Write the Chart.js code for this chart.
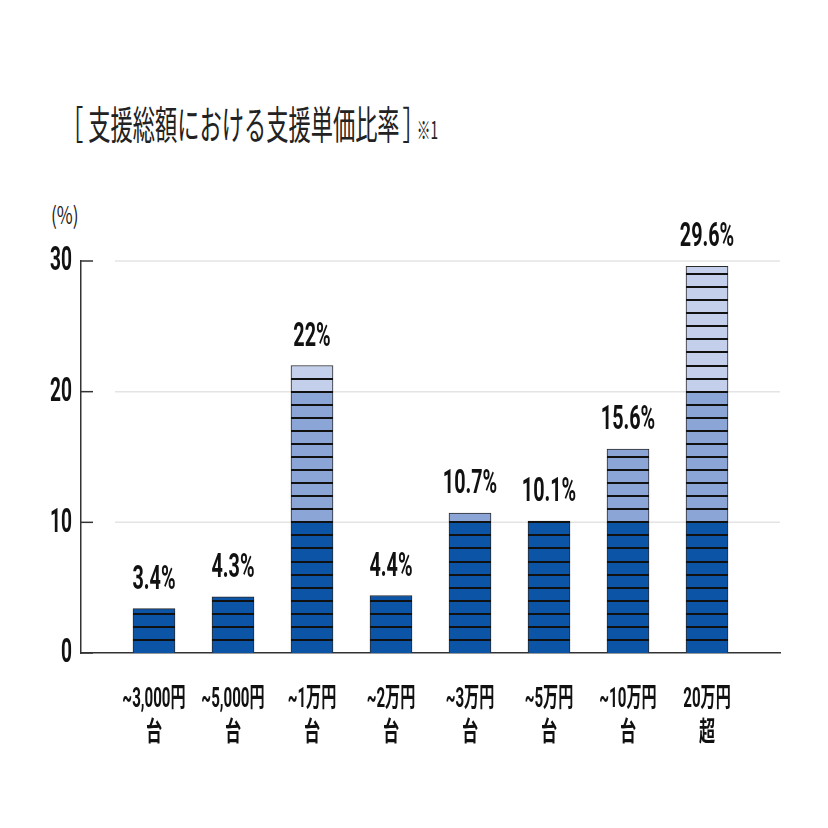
<!DOCTYPE html>
<html>
<head>
<meta charset="utf-8">
<script src="https://cdn.jsdelivr.net/npm/chart.js@4"></script>
<style>
  body { margin: 0; background: #fff; }
  #wrap { position: relative; width: 828px; height: 828px; }
  #chart { position: absolute; left: 0; top: 0; }
  #title {
    position: absolute; left: 61px; top: 99px; white-space: nowrap;
    font-family: 'Noto Sans CJK JP', sans-serif; font-size: 39px; color: #222;
    transform: scaleX(0.57); transform-origin: left top; line-height: 46px;
  }
  #title .open { margin-right: 9px; }
  #title .close { margin-left: 5px; }
  #title .note { font-size: 24px; margin-left: -14px; }
  #unit {
    position: absolute; left: 51px; top: 196px; white-space: nowrap;
    font-family: 'Noto Sans CJK JP', sans-serif; font-size: 24px; color: #222;
    transform: scaleX(0.72); transform-origin: left top;
  }
</style>
</head>
<body>
<div id="wrap">
  <div id="title"><span class="open">［</span>支援総額における支援単価比率<span class="close">］</span><span class="note">※1</span></div>
  <div id="unit">(%)</div>
  <canvas id="chart" width="828" height="828"></canvas>
</div>
<script>
// Data
const labelsTop = ['~3,000円', '~5,000円', '~1万円', '~2万円', '~3万円', '~5万円', '~10万円', '20万円'];
const labelsBottom = ['台', '台', '台', '台', '台', '台', '台', '超'];
const values = [3.4, 4.3, 22, 4.4, 10.7, 10.1, 15.6, 29.6];
const yTicks = [0, 10, 20, 30];

const darkBlue = '#0c55a6';
const midBlue = '#8ca5d7';
const lightBlue = '#c4cfec';

// Split each value into 0-10, 10-20, 20-30 bands
const bandLow = values.map((v, i) => ({ x: i, y: Math.min(v, 10) }));
const bandMid = values.map((v, i) => ({ x: i, y: v > 10 ? Math.min(v - 10, 10) : null }));
const bandHigh = values.map((v, i) => ({ x: i, y: v > 20 ? v - 20 : null }));

// Draw text squeezed horizontally (condensed look)
function squishText(ctx, text, x, y, sx, align) {
    ctx.save();
    ctx.translate(x, y);
    ctx.scale(sx, 1);
    ctx.textAlign = align;
    ctx.fillText(text, 0, 0);
    ctx.restore();
}

// Gridlines and inner tick marks
const gridPlugin = {
    id: 'gridPlugin',
    beforeDatasetsDraw(chart) {
        const { ctx, chartArea, scales } = chart;
        ctx.save();
        yTicks.forEach(t => {
            const py = scales.y.getPixelForValue(t);
            if (t > 0) {
                ctx.strokeStyle = '#e4e4e4';
                ctx.lineWidth = 1.5;
                ctx.beginPath();
                ctx.moveTo(chartArea.left + 34, py);
                ctx.lineTo(chartArea.right, py);
                ctx.stroke();
            }
            ctx.strokeStyle = '#333';
            ctx.lineWidth = 1.5;
            ctx.beginPath();
            ctx.moveTo(chartArea.left, py);
            ctx.lineTo(chartArea.left + 12, py);
            ctx.stroke();
        });
        ctx.restore();
    }
};

// Horizontal stripes on every bar at each whole percent
const stripePlugin = {
    id: 'stripePlugin',
    afterDatasetsDraw(chart) {
        const { ctx, scales } = chart;
        const meta = chart.getDatasetMeta(0);
        ctx.save();
        ctx.strokeStyle = '#111';
        ctx.lineWidth = 2;
        values.forEach((v, i) => {
            const bar = meta.data[i];
            const half = bar.width / 2;
            for (let k = 1; k < v; k++) {
                const py = Math.round(scales.y.getPixelForValue(k));
                ctx.beginPath();
                ctx.moveTo(bar.x - half, py);
                ctx.lineTo(bar.x + half, py);
                ctx.stroke();
            }
        });
        ctx.restore();
    }
};

// Tick labels and value labels
const labelPlugin = {
    id: 'labelPlugin',
    afterDraw(chart) {
        const { ctx, chartArea, scales } = chart;
        ctx.save();
        ctx.fillStyle = '#111';

        // y tick labels
        ctx.font = "700 33px Roboto, 'Noto Sans CJK JP', sans-serif";
        ctx.textBaseline = 'middle';
        yTicks.forEach(t => {
            squishText(ctx, String(t), chartArea.left - 9, scales.y.getPixelForValue(t) + 1, 0.58, 'right');
        });

        // x tick labels
        ctx.font = "700 27px Roboto, 'Noto Sans CJK JP', sans-serif";
        labelsTop.forEach((lab, i) => {
            const px = scales.x.getPixelForValue(i);
            squishText(ctx, lab, px, chartArea.bottom + 47, 0.56, 'center');
            squishText(ctx, labelsBottom[i], px, chartArea.bottom + 81, 0.6, 'center');
        });

        // value labels above bars
        ctx.font = "700 33px Roboto, sans-serif";
        ctx.textBaseline = 'alphabetic';
        values.forEach((v, i) => {
            const px = scales.x.getPixelForValue(i);
            const py = scales.y.getPixelForValue(v);
            squishText(ctx, v + '%', px, py - 20, 0.6, 'center');
        });
        ctx.restore();
    }
};

const ctx = document.getElementById('chart').getContext('2d');
const chart = new Chart(ctx, {
    type: 'bar',
    data: {
        datasets: [
            { data: bandLow, backgroundColor: darkBlue },
            { data: bandMid, backgroundColor: midBlue },
            { data: bandHigh, backgroundColor: lightBlue }
        ]
    },
    options: {
        responsive: false,
        animation: false,
        layout: { padding: { top: 261, right: 48, left: 0, bottom: 0 } },
        datasets: {
            bar: {
                barThickness: 42,
                borderColor: '#2a2a2a',
                borderWidth: 1,
                borderSkipped: 'start'
            }
        },
        plugins: {
            legend: { display: false },
            tooltip: { enabled: false }
        },
        scales: {
            x: {
                type: 'linear',
                stacked: true,
                offset: false,
                min: -0.924,
                max: 7.924,
                afterBuildTicks: axis => { axis.ticks = labelsTop.map((_, i) => ({ value: i })); },
                afterFit: axis => { axis.height = 175; },
                ticks: { display: false },
                grid: { display: false, drawTicks: false },
                border: { display: true, color: '#333', width: 1.5 }
            },
            y: {
                stacked: true,
                min: 0,
                max: 30,
                ticks: { display: false, stepSize: 10 },
                afterFit: axis => { axis.width = 81; },
                grid: { display: false, drawTicks: false },
                border: { display: true, color: '#333', width: 1.5 }
            }
        }
    },
    plugins: [gridPlugin, stripePlugin, labelPlugin]
});
</script>
</body>
</html>
